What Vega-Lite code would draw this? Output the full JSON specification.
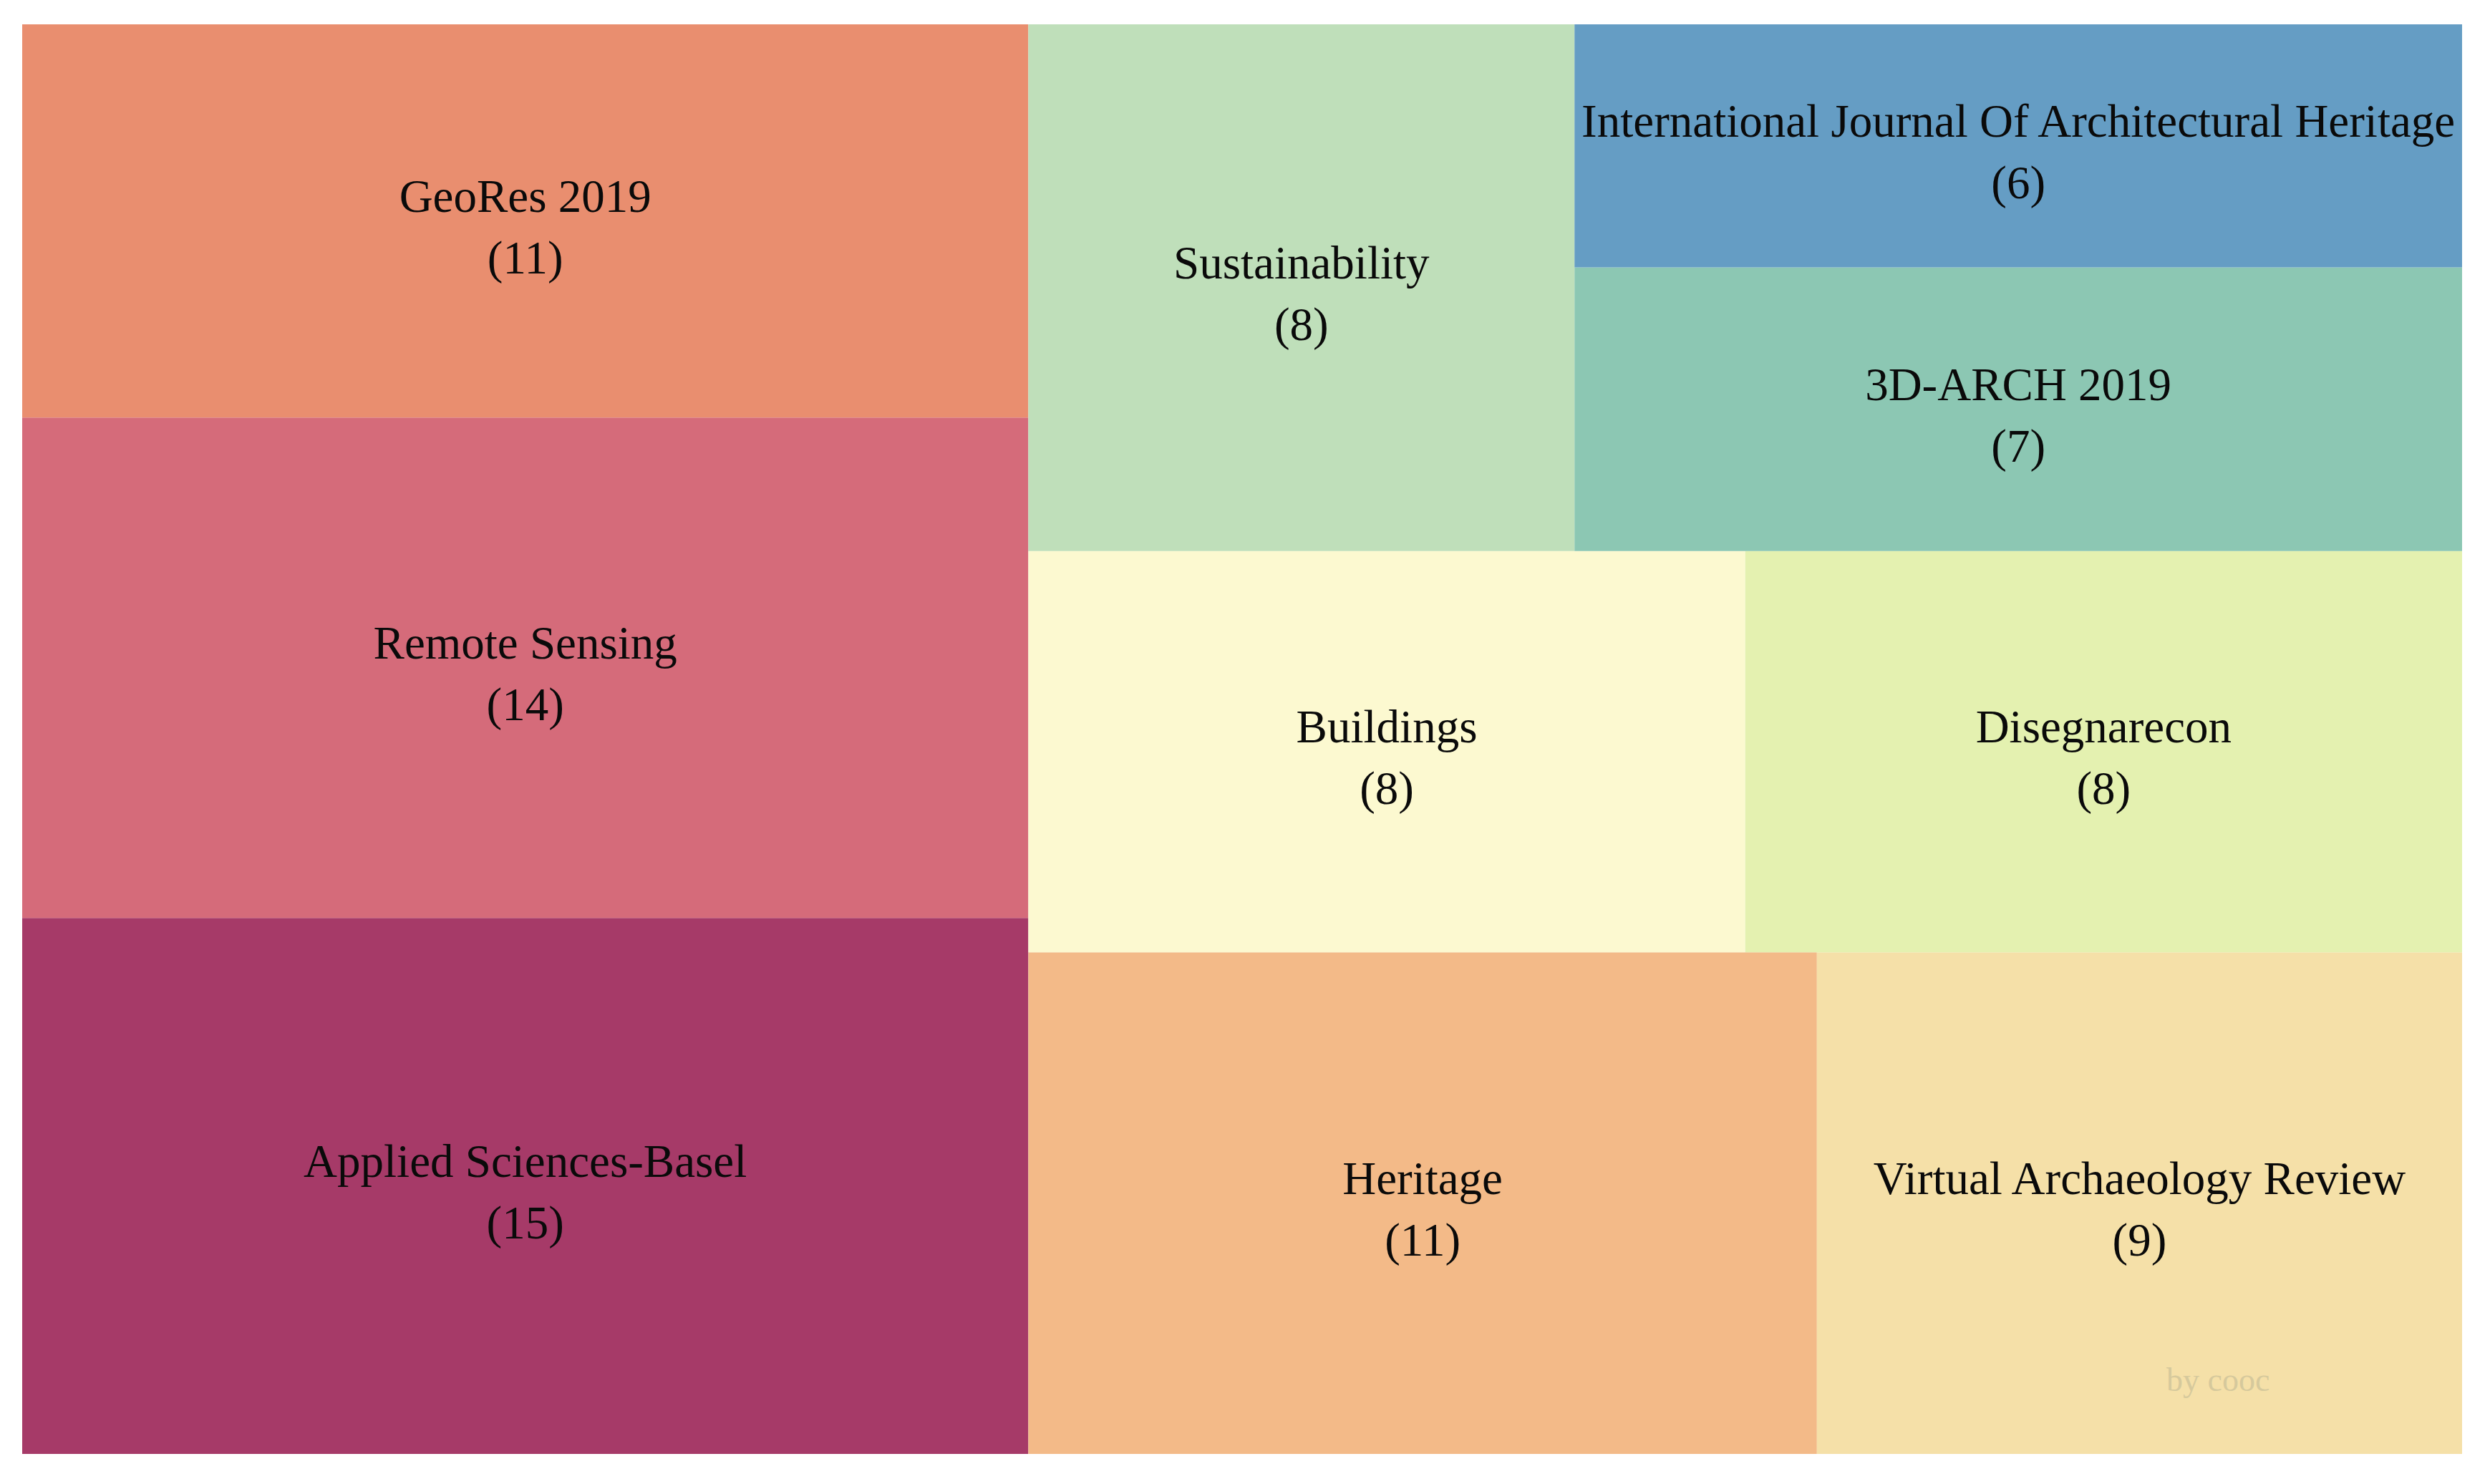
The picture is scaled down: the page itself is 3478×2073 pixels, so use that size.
{
  "$schema": "https://vega.github.io/schema/vega-lite/v6.json",
  "width": 3408,
  "height": 1997,
  "autosize": {"type": "none"},
  "padding": {"left": 31, "top": 34, "right": 39, "bottom": 42},
  "background": "white",
  "config": {"view": {"stroke": null}},
  "layer": [
    {
      "data": {
        "values": [
          {"name": "Applied Sciences-Basel", "count": 15, "k1": 0, "k2": 0, "k3": 0, "k4": 0},
          {"name": "Remote Sensing", "count": 14, "k1": 0, "k2": 1, "k3": 0, "k4": 0},
          {"name": "GeoRes 2019", "count": 11, "k1": 0, "k2": 2, "k3": 0, "k4": 0},
          {"name": "Heritage", "count": 11, "k1": 1, "k2": 0, "k3": 0, "k4": 0},
          {"name": "Virtual Archaeology Review", "count": 9, "k1": 1, "k2": 0, "k3": 1, "k4": 0},
          {"name": "Buildings", "count": 8, "k1": 1, "k2": 1, "k3": 0, "k4": 0},
          {"name": "Disegnarecon", "count": 8, "k1": 1, "k2": 1, "k3": 1, "k4": 0},
          {"name": "Sustainability", "count": 8, "k1": 1, "k2": 2, "k3": 0, "k4": 0},
          {"name": "3D-ARCH 2019", "count": 7, "k1": 1, "k2": 2, "k3": 1, "k4": 0},
          {"name": "International Journal Of Architectural Heritage", "count": 6, "k1": 1, "k2": 2, "k3": 1, "k4": 1}
        ]
      },
      "transform": [
        {"joinaggregate": [{"op": "sum", "field": "count", "as": "s1"}], "groupby": ["k1"]},
        {"joinaggregate": [{"op": "sum", "field": "count", "as": "s2"}], "groupby": ["k1", "k2"]},
        {"joinaggregate": [{"op": "sum", "field": "count", "as": "s3"}], "groupby": ["k1", "k2", "k3"]},
        {"window": [{"op": "sum", "field": "count", "as": "c1"}], "sort": [{"field": "k1"}, {"field": "k2"}, {"field": "k3"}, {"field": "k4"}], "frame": [null, 0]},
        {"calculate": "datum.c1 - datum.count", "as": "b1"},
        {"joinaggregate": [{"op": "min", "field": "b1", "as": "a1"}], "groupby": ["k1"]},
        {"window": [{"op": "sum", "field": "count", "as": "c2"}], "groupby": ["k1"], "sort": [{"field": "k2"}, {"field": "k3"}, {"field": "k4"}], "frame": [null, 0]},
        {"calculate": "datum.c2 - datum.count", "as": "b2"},
        {"joinaggregate": [{"op": "min", "field": "b2", "as": "a2"}], "groupby": ["k1", "k2"]},
        {"window": [{"op": "sum", "field": "count", "as": "c3"}], "groupby": ["k1", "k2"], "sort": [{"field": "k3"}, {"field": "k4"}], "frame": [null, 0]},
        {"calculate": "datum.c3 - datum.count", "as": "b3"},
        {"joinaggregate": [{"op": "min", "field": "b3", "as": "a3"}], "groupby": ["k1", "k2", "k3"]},
        {"window": [{"op": "sum", "field": "count", "as": "c4"}], "groupby": ["k1", "k2", "k3"], "sort": [{"field": "k4"}], "frame": [null, 0]},
        {"calculate": "datum.c4 - datum.count", "as": "a4"},
        {"calculate": "datum.a1 + datum.s1 * datum.a3 / datum.s2", "as": "x0"},
        {"calculate": "datum.a1 + datum.s1 * (datum.a3 + datum.s3) / datum.s2", "as": "x1"},
        {"calculate": "(datum.a2 + datum.s2 * datum.a4 / datum.s3) / datum.s1", "as": "y0"},
        {"calculate": "(datum.a2 + datum.s2 * (datum.a4 + datum.count) / datum.s3) / datum.s1", "as": "y1"},
        {"calculate": "(datum.x0 + datum.x1) / 2", "as": "xc"},
        {"calculate": "(datum.y0 + datum.y1) / 2", "as": "yc"},
        {"calculate": "[datum.name, '(' + datum.count + ')']", "as": "label"}
      ],
      "layer": [
        {
          "mark": {"type": "rect", "strokeWidth": 0},
          "encoding": {
            "x": {"field": "x0", "type": "quantitative", "scale": {"domain": [0, 97], "nice": false, "zero": false}, "axis": null},
            "x2": {"field": "x1"},
            "y": {"field": "y0", "type": "quantitative", "scale": {"domain": [0, 1], "nice": false, "zero": false}, "axis": null},
            "y2": {"field": "y1"},
            "color": {
              "field": "name",
              "type": "nominal",
              "legend": null,
              "scale": {
                "domain": ["Applied Sciences-Basel", "Remote Sensing", "GeoRes 2019", "Heritage", "Virtual Archaeology Review", "Buildings", "Disegnarecon", "Sustainability", "3D-ARCH 2019", "International Journal Of Architectural Heritage"],
                "range": ["#A63A68", "#D56B7A", "#E98E6F", "#F3BA88", "#F5E0A8", "#FCF9D0", "#E4F1B0", "#BFDFBA", "#8CC7B3", "#659DC4"]
              }
            }
          }
        },
        {
          "mark": {"type": "text", "font": "Liberation Serif", "fontSize": 65, "lineHeight": 86, "dy": -33, "color": "#0A0A0A", "align": "center", "baseline": "middle"},
          "encoding": {
            "x": {"field": "xc", "type": "quantitative"},
            "y": {"field": "yc", "type": "quantitative"},
            "text": {"field": "label"}
          }
        }
      ]
    },
    {
      "data": {"values": [{"t": "by cooc"}]},
      "mark": {"type": "text", "font": "Liberation Serif", "fontSize": 46, "color": "#D6C99C", "align": "center", "baseline": "middle"},
      "encoding": {
        "x": {"datum": 87.3, "type": "quantitative"},
        "y": {"datum": 0.051, "type": "quantitative"},
        "text": {"field": "t"}
      }
    }
  ]
}
